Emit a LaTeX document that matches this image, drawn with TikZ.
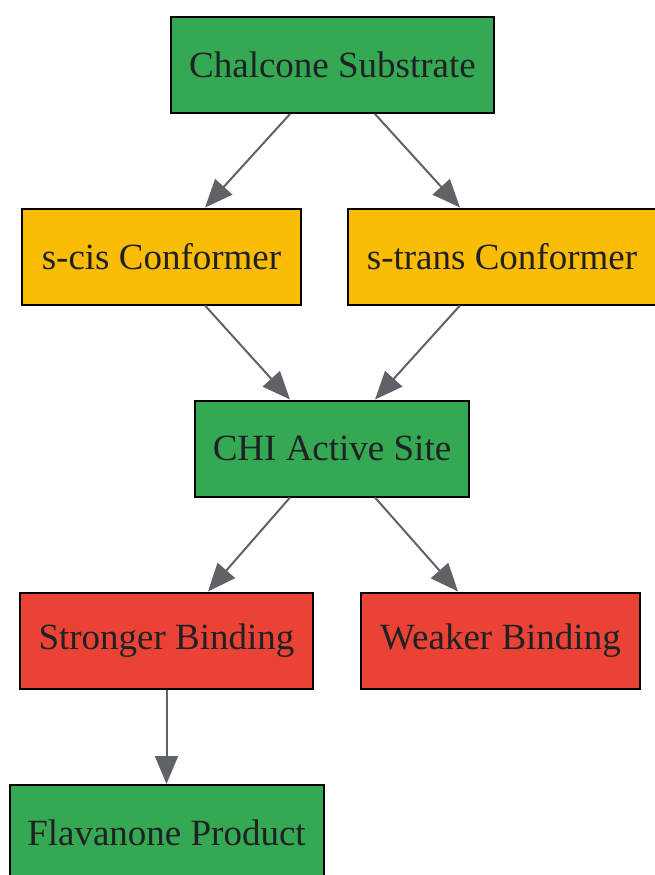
\documentclass[tikz,border=0pt]{standalone}
\usepackage{fontspec}
\setmainfont{Liberation Serif}
\usetikzlibrary{arrows.meta,calc}
\definecolor{gGreen}{HTML}{34A853}
\definecolor{gYellow}{HTML}{FBBC05}
\definecolor{gRed}{HTML}{EA4335}
\definecolor{edgeGray}{HTML}{5F6368}
\definecolor{txtDark}{HTML}{202124}
\begin{document}
\begin{tikzpicture}[x=1pt,y=-1pt,
  box/.style={draw=black,line width=2pt,rectangle,inner sep=0pt,minimum height=96pt,
    text=txtDark,font=\fontsize{37}{44}\selectfont,anchor=center},
  greenbox/.style={box,fill=gGreen},
  yellowbox/.style={box,fill=gYellow},
  redbox/.style={box,fill=gRed},
  conn/.style={draw=edgeGray,line width=2pt,-{Triangle[length=28pt,width=23pt]}}]
\useasboundingbox (0,0) rectangle (655,875);
\node[greenbox,minimum width=323pt] (chal) at (332.5,65) {Chalcone Substrate};
\node[yellowbox,minimum width=279pt] (scis) at (161.5,256.5) {s-cis Conformer};
\node[yellowbox,minimum width=308pt] (strans) at (502,256.5) {s-trans Conformer};
\node[greenbox,minimum width=274pt] (chi) at (332,448.5) {CHI Active Site};
\node[redbox,minimum width=293pt] (strong) at (166.5,640.5) {Stronger Binding};
\node[redbox,minimum width=279pt] (weak) at (500.5,640.5) {Weaker Binding};
\node[greenbox,minimum width=314pt] (flav) at (166.5,833) {Flavanone Product};
\draw[conn] ([xshift=-42.5pt]chal.south) -- ([xshift=43.5pt]scis.north);
\draw[conn] ([xshift=42.5pt]chal.south) -- ([xshift=-42pt]strans.north);
\draw[conn] ([xshift=43.5pt]scis.south) -- ([xshift=-42pt]chi.north);
\draw[conn] ([xshift=-42pt]strans.south) -- ([xshift=43pt]chi.north);
\draw[conn] ([xshift=-42pt]chi.south) -- ([xshift=41.5pt]strong.north);
\draw[conn] ([xshift=43pt]chi.south) -- ([xshift=-42.5pt]weak.north);
\draw[conn] (strong.south) -- (flav.north);
\end{tikzpicture}
\end{document}
